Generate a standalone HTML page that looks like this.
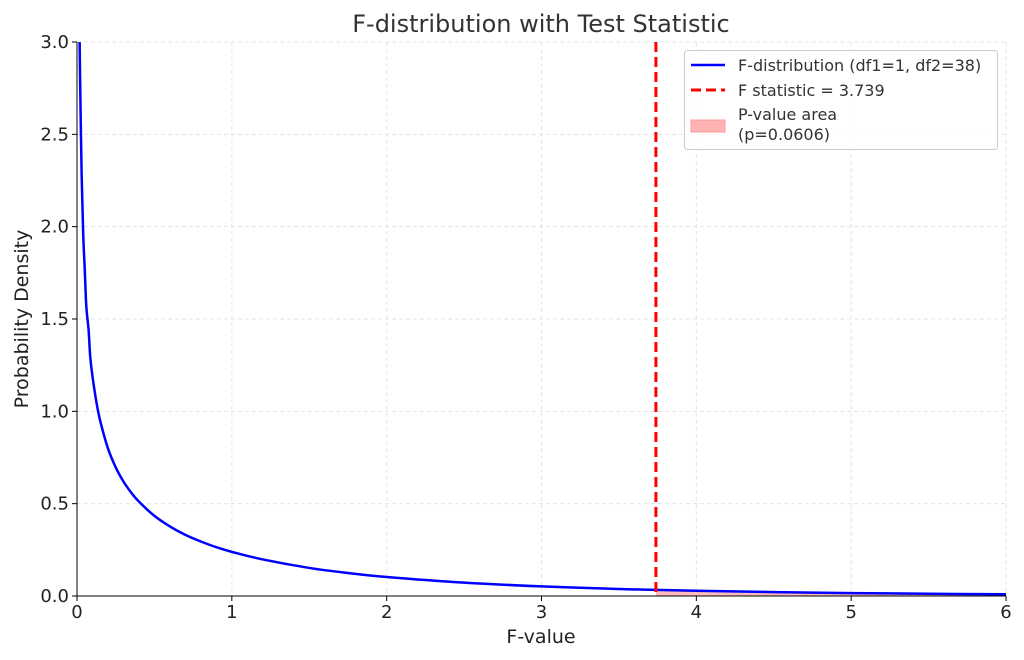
<!DOCTYPE html>
<html><head><meta charset="utf-8"><style>
body{margin:0;background:#fff}
svg{display:block;font-family:"DejaVu Sans","Liberation Sans",sans-serif}
</style></head><body>
<svg id="chart" width="1024" height="660" viewBox="0 0 1024 660">
<text x="541" y="32" text-anchor="middle" font-size="24" fill="#333">F-distribution with Test Statistic</text>
<g id="grid"></g>
<g id="area"></g>
<g id="lines"></g>
<g id="axes"></g>
<text x="541" y="643" text-anchor="middle" font-size="19" fill="#222">F-value</text>
<text transform="translate(28,319) rotate(-90)" text-anchor="middle" font-size="19" fill="#222">Probability Density</text>
<g>
<rect x="684.5" y="50.5" width="313" height="99" rx="3" fill="#fff" fill-opacity="0.85" stroke="#ccc"/>
<line x1="691" y1="65" x2="725" y2="65" stroke="#0000ff" stroke-width="2.5"/>
<text x="738" y="71" font-size="16" fill="#333">F-distribution (df1=1, df2=38)</text>
<line x1="691" y1="90" x2="725" y2="90" stroke="#ff0000" stroke-width="3" stroke-dasharray="10,5"/>
<text x="738" y="96" font-size="16" fill="#333">F statistic = 3.739</text>
<rect x="691" y="120" width="34" height="12" fill="#ffb3b3" stroke="#ff9999"/>
<text x="738" y="120" font-size="16" fill="#333">P-value area</text>
<text x="738" y="140" font-size="16" fill="#333">(p=0.0606)</text>
</g>
</svg>
<script>
const xs=[0.017,0.02,0.03,0.04,0.05,0.06,0.075,0.085,0.1,0.125,0.15,0.2,0.25,0.3,0.35,0.4,0.5,0.6,0.7,0.8,0.9,1,1.2,1.5,1.75,2,2.5,3,3.5,3.739,4,4.5,5,5.5,6];
const ys=[3.0,2.80,2.28,1.96,1.77,1.57,1.44,1.30,1.19,1.052,0.948,0.799,0.697,0.620,0.560,0.511,0.434,0.377,0.331,0.295,0.264,0.239,0.198,0.152,0.1246,0.103,0.0724,0.052,0.038,0.0329,0.0281,0.0211,0.0159,0.0121,0.0093];
const fStat=3.739;
const xTicks=[0,1,2,3,4,5,6];
const yTicks=[0,0.5,1.0,1.5,2.0,2.5,3.0];
const NS="http://www.w3.org/2000/svg";
const X0=77,X1=1006,Y0=596,Y1=42;
const sx=v=>X0+(v-0)/(6-0)*(X1-X0);
const sy=v=>Y0-(v-0)/(3-0)*(Y0-Y1);
function mk(p,t,a){const e=document.createElementNS(NS,t);for(const k in a)e.setAttribute(k,a[k]);p.appendChild(e);return e;}
function smooth(pts){
 let d=`M${pts[0][0]},${pts[0][1]}`;
 for(let i=0;i<pts.length-1;i++){
  const p0=pts[Math.max(0,i-1)],p1=pts[i],p2=pts[i+1],p3=pts[Math.min(pts.length-1,i+2)];
  const c1=[p1[0]+(p2[0]-p0[0])/6,p1[1]+(p2[1]-p0[1])/6];
  const c2=[p2[0]-(p3[0]-p1[0])/6,p2[1]-(p3[1]-p1[1])/6];
  d+=`C${c1[0]},${c1[1]} ${c2[0]},${c2[1]} ${p2[0]},${p2[1]}`;
 }
 return d;
}
const grid=document.getElementById('grid'),axes=document.getElementById('axes');
xTicks.forEach(t=>{
 const g=mk(grid,'line',{x1:sx(t),x2:sx(t),y1:Y1,y2:Y0,stroke:'#e4e4e4','stroke-dasharray':'4,3'});
 
 
 const tk=mk(axes,'line',{x1:sx(t),x2:sx(t),y1:Y0,y2:Y0+5,stroke:'#000'});
 
 
 const l=mk(axes,'text',{x:sx(t),y:Y0+22,'text-anchor':'middle','font-size':18,fill:'#222'});
 l.textContent=t;
 
 
});
yTicks.forEach(t=>{
 const g=mk(grid,'line',{x1:X0,x2:X1,y1:sy(t),y2:sy(t),stroke:'#e4e4e4','stroke-dasharray':'4,3'});
 
 
 const tk=mk(axes,'line',{x1:X0-5,x2:X0,y1:sy(t),y2:sy(t),stroke:'#000'});
 
 
 const l=mk(axes,'text',{x:X0-8,y:sy(t)+6,'text-anchor':'end','font-size':18,fill:'#222'});
 l.textContent=t.toFixed(1);
 
 
});
const al=mk(axes,'path',{d:`M${X0},${Y1}V${Y0}H${X1}`,fill:'none',stroke:'#000','stroke-width':1});


let ad=`M${sx(fStat)},${sy(0)}`;
xs.forEach((x,i)=>{if(x>=fStat)ad+=`L${sx(x)},${sy(ys[i])}`;});
ad+=`L${sx(6)},${sy(0)}Z`;
const ar=mk(document.getElementById('area'),'path',{d:ad,fill:'#ffb3b3','fill-opacity':0.9});


const lines=document.getElementById('lines');
const cp=mk(lines,'path',{d:smooth(xs.map((x,i)=>[sx(x),sy(ys[i])])),fill:'none',stroke:'#0000ff','stroke-width':2.5});


const vl=mk(lines,'line',{x1:sx(fStat),x2:sx(fStat),y1:Y1,y2:Y0,stroke:'#ff0000','stroke-width':3,'stroke-dasharray':'10,5'});


</script>
</body></html>
